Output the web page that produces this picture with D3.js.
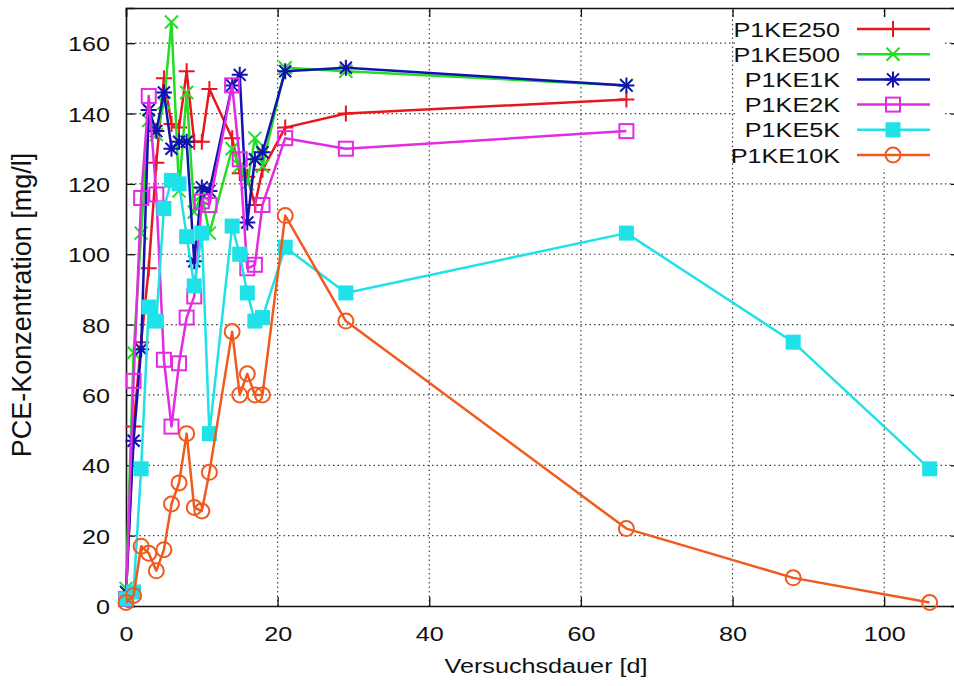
<!DOCTYPE html>
<html>
<head>
<meta charset="utf-8">
<script src="https://cdn.jsdelivr.net/npm/d3@7"></script>
<style>
body { margin: 0; background: #fff; }
text { font-family: "Liberation Sans", Arial, sans-serif; fill: #111; }
</style>
</head>
<body>
<script>
var w = 954, h = 686;

// sampling days (shared by all series)
var days = [0, 1, 2, 3, 4, 5, 6, 7, 8, 9, 10, 11, 14, 15, 16, 17, 18, 21, 29, 66, 88, 106];
var xTicks = [0, 20, 40, 60, 80, 100];
var yTicks = [0, 20, 40, 60, 80, 100, 120, 140, 160];

var names = ["P1KE250", "P1KE500", "P1KE1K", "P1KE2K", "P1KE5K", "P1KE10K"];
var colors = ["#e8161e", "#22dd22", "#1212b0", "#e22ce2", "#1ee2e8", "#f05a1e"];
var symbols = ["plus", "cross", "star", "square", "filled", "circle"];

// PCE concentration [mg/l]
var p1ke250 = [3, 51, 75, 96, 126, 150, 137, 136, 152, 132, 132, 147, 133, 123, 122, 114, 124, 136, 140, 144];
var p1ke500 = [5, 72, 106, 138, 134, 143, 166, 118, 146, 112, 117, 106, 130, 125, 120, 133, 125, 153, 152, 148];
var p1ke1k = [4, 47, 73, 141, 135, 146, 130, 132, 132, 98, 119, 118, 148, 151, 109, 127, 129, 152, 153, 148];
var p1ke2k = [2, 64, 116, 145, 117, 70, 51, 69, 82, 88, 115, 114, 148, 127, 96, 97, 114, 133, 130, 135];
var p1ke5k = [2, 4, 39, 85, 81, 113, 121, 120, 105, 91, 106, 49, 108, 100, 89, 81, 82, 102, 89, 106, 75, 39];
var p1ke10k = [1, 3, 17, 15, 10, 16, 29, 35, 49, 28, 27, 38, 78, 60, 66, 60, 60, 111, 81, 22, 8, 1];
var values = [p1ke250, p1ke500, p1ke1k, p1ke2k, p1ke5k, p1ke10k];

var sx = 1.2; // the lettering in the picture is a little wide

var x = d3.scaleLinear().domain([0, 110]).range([126, 960]);
var y = d3.scaleLinear().domain([0, 170]).range([606, 8]);

var svg = d3.select("body").append("svg")
    .attr("width", w)
    .attr("height", h);
svg.append("rect").attr("width", w).attr("height", h).attr("fill", "#fff");

// grid
var grid = svg.append("g")
    .attr("stroke", "#444")
    .attr("stroke-width", 1.2)
    .attr("stroke-dasharray", "1.5,3");
grid.selectAll("line.gx")
    .data(xTicks.slice(1))
    .enter().append("line")
    .attr("x1", function (d) { return x(d); })
    .attr("x2", function (d) { return x(d); })
    .attr("y1", y(0)).attr("y2", y(170));
grid.selectAll("line.gy")
    .data(yTicks.slice(1))
    .enter().append("line")
    .attr("y1", function (d) { return y(d); })
    .attr("y2", function (d) { return y(d); })
    .attr("x1", x(0)).attr("x2", x(110));

// legend background hides the grid behind it
svg.append("rect")
    .attr("x", 736).attr("y", 17)
    .attr("width", 208).attr("height", 152)
    .attr("fill", "#fff");

// axes, ticks pointing inward on all four sides
var xAxis = d3.axisBottom(x).tickValues(xTicks).tickSize(-9).tickPadding(20);
var yAxis = d3.axisLeft(y).tickValues(yTicks).tickSize(-9).tickPadding(16);

var gx = svg.append("g").attr("transform", "translate(0," + y(0) + ")").call(xAxis);
var gy = svg.append("g").attr("transform", "translate(" + x(0) + ",0)").call(yAxis);
svg.append("g").attr("transform", "translate(0," + y(170) + ")")
    .call(d3.axisTop(x).tickValues(xTicks).tickSize(-9).tickFormat(""));
svg.append("g").attr("transform", "translate(" + x(110) + ",0)")
    .call(d3.axisRight(y).tickValues(yTicks).tickSize(-9).tickFormat(""));

svg.selectAll(".domain").attr("stroke", "#111").attr("stroke-width", 1.6);
svg.selectAll(".tick line").attr("stroke", "#111").attr("stroke-width", 1.3);

gx.selectAll("text")
    .attr("font-size", 21)
    .attr("transform", "scale(" + sx + ",1)");
gy.selectAll("text")
    .attr("font-size", 21)
    .attr("dy", "0.36em")
    .attr("x", -16 / sx)
    .attr("transform", "scale(" + sx + ",1)");

// axis titles
svg.append("text")
    .attr("transform", "translate(546,673) scale(" + sx + ",1)")
    .attr("text-anchor", "middle")
    .attr("font-size", 21)
    .text("Versuchsdauer [d]");
svg.append("text")
    .attr("transform", "translate(31,305) scale(1.05,1) rotate(-90)")
    .attr("text-anchor", "middle")
    .attr("font-size", 27)
    .text("PCE-Konzentration [mg/l]");

function marker(g, type, color) {
    if (type === "plus") {
        g.append("path").attr("d", "M-8,0H8M0,-8V8")
            .attr("stroke", color).attr("stroke-width", 2).attr("fill", "none");
    } else if (type === "cross") {
        g.append("path").attr("d", "M-6.5,-6.5L6.5,6.5M-6.5,6.5L6.5,-6.5")
            .attr("stroke", color).attr("stroke-width", 2).attr("fill", "none");
    } else if (type === "star") {
        g.append("path").attr("d", "M-8,0H8M0,-8V8M-6,-6L6,6M-6,6L6,-6")
            .attr("stroke", color).attr("stroke-width", 2).attr("fill", "none");
    } else if (type === "square") {
        g.append("rect").attr("x", -7).attr("y", -7).attr("width", 14).attr("height", 14)
            .attr("stroke", color).attr("stroke-width", 2).attr("fill", "none");
    } else if (type === "filled") {
        g.append("rect").attr("x", -7.5).attr("y", -7.5).attr("width", 15).attr("height", 15)
            .attr("fill", color);
    } else {
        g.append("circle").attr("r", 7.5)
            .attr("stroke", color).attr("stroke-width", 2).attr("fill", "none");
    }
}

var line = d3.line()
    .x(function (d) { return x(d[0]); })
    .y(function (d) { return y(d[1]); });

values.forEach(function (vals, i) {
    var pts = vals.map(function (v, j) { return [days[j], v]; });
    var g = svg.append("g");
    g.append("path")
        .attr("d", line(pts))
        .attr("fill", "none")
        .attr("stroke", colors[i])
        .attr("stroke-width", 2.5)
        .attr("stroke-linejoin", "round");
    g.selectAll("g.pt")
        .data(pts)
        .enter().append("g")
        .attr("transform", function (d) { return "translate(" + x(d[0]) + "," + y(d[1]) + ")"; })
        .each(function () { marker(d3.select(this), symbols[i], colors[i]); });
});

// legend
var legend = svg.append("g");
names.forEach(function (name, i) {
    var ly = 29 + i * 25.2;
    legend.append("text")
        .attr("transform", "translate(840," + ly + ") scale(" + sx + ",1)")
        .attr("text-anchor", "end")
        .attr("dy", "0.36em")
        .attr("font-size", 21)
        .text(name);
    legend.append("line")
        .attr("x1", 857).attr("x2", 930)
        .attr("y1", ly).attr("y2", ly)
        .attr("stroke", colors[i]).attr("stroke-width", 2.5);
    marker(legend.append("g").attr("transform", "translate(893," + ly + ")"), symbols[i], colors[i]);
});
</script>
</body>
</html>
